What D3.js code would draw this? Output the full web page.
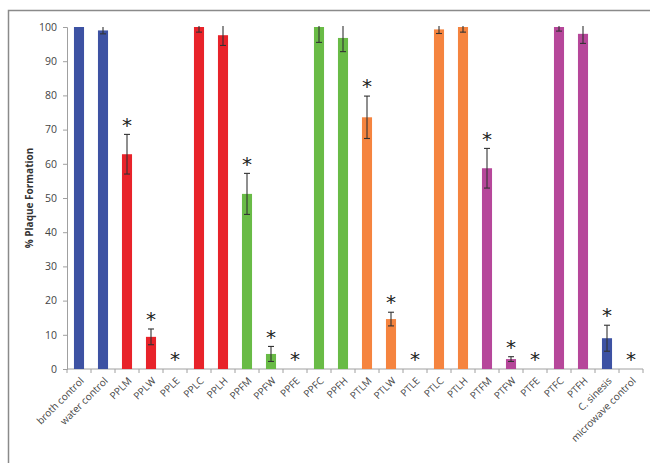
<!DOCTYPE html>
<html>
<head>
<meta charset="utf-8">
<script src="https://cdn.jsdelivr.net/npm/d3@7"></script>
<style>
  html, body { margin: 0; padding: 0; background: #fff; }
  svg { display: block; }
</style>
</head>
<body>
<svg id="chart" width="650" height="463"></svg>
<script>
// Treatments, in plotting order
const categories = ["broth control", "water control", "PPLM", "PPLW", "PPLE", "PPLC", "PPLH",
  "PPFM", "PPFW", "PPFE", "PPFC", "PPFH", "PTLM", "PTLW", "PTLE", "PTLC", "PTLH",
  "PTFM", "PTFW", "PTFE", "PTFC", "PTFH", "C. sinesis", "microwave control"];
// Mean % plaque formation
const values = [100, 99, 62.8, 9.4, 0, 100, 97.6,
  51.2, 4.4, 0, 100, 96.8, 73.6, 14.6, 0, 99.3, 100,
  58.7, 2.9, 0, 100, 98.0, 9.0, 0];
// Standard error for each treatment
const errors = [0, 1, 5.8, 2.3, 0, 1.5, 3,
  6, 2.2, 0, 4.5, 4, 6.2, 2, 0, 1.2, 1.5,
  5.8, 0.7, 0, 1.2, 2.8, 3.8, 0];
// Significance marks (1 = significant)
const significant = [0, 0, 1, 1, 1, 0, 0,
  1, 1, 1, 0, 0, 1, 1, 1, 0, 0,
  1, 1, 1, 0, 0, 1, 1];
// Extract group of each treatment (sets the bar colour)
const groups = ["control", "control", "PPL", "PPL", "PPL", "PPL", "PPL",
  "PPF", "PPF", "PPF", "PPF", "PPF", "PTL", "PTL", "PTL", "PTL", "PTL",
  "PTF", "PTF", "PTF", "PTF", "PTF", "control", "control"];
const groupNames = ["control", "PPL", "PPF", "PTL", "PTF"];
const groupColors = ["#3d52a3", "#e8232a", "#69bb46", "#f5843f", "#b6479a"];
const yTicks = [0, 10, 20, 30, 40, 50, 60, 70, 80, 90, 100];
const yTitle = "% Plaque Formation";

const svg = d3.select("#chart");
const margin = { left: 67, right: 7, top: 27, bottom: 94 };
const W = 650, H = 463;

// outer frame (top and left edges visible)
svg.append("rect")
  .attr("x", 8.5).attr("y", 10.5)
  .attr("width", 700).attr("height", 500)
  .attr("fill", "none").attr("stroke", "#8a8a8a").attr("stroke-width", 1.5);

const x = d3.scaleBand()
  .domain(categories)
  .range([margin.left, W - margin.right])
  .paddingInner(0.58).paddingOuter(0.29);

const y = d3.scaleLinear()
  .domain([0, 100])
  .range([H - margin.bottom, margin.top]);

const color = d3.scaleOrdinal().domain(groupNames).range(groupColors);

const data = categories.map((c, i) => ({
  cat: c, v: values[i], e: errors[i], sig: significant[i], g: groups[i]
}));

// y axis
const yAxis = svg.append("g")
  .attr("transform", `translate(${margin.left},0)`)
  .call(d3.axisLeft(y).tickValues(yTicks).tickSize(4).tickPadding(6));
yAxis.select(".domain").attr("stroke", "#a0a0a0");
yAxis.selectAll(".tick line").attr("stroke", "#a0a0a0");
yAxis.selectAll(".tick text")
  .attr("font-family", "'Open Sans', 'DejaVu Sans', sans-serif")
  .attr("font-size", 10.5).attr("fill", "#444");

// x axis with tick marks between categories
const xAxisG = svg.append("g")
  .attr("transform", `translate(0,${y(0)})`);
xAxisG.append("line")
  .attr("x1", margin.left).attr("x2", W - margin.right)
  .attr("stroke", "#a0a0a0");
const step = x.step();
const bounds = d3.range(categories.length + 1).map(i => margin.left + i * step);
xAxisG.selectAll("line.sep").data(bounds).join("line")
  .attr("class", "sep")
  .attr("x1", d => d).attr("x2", d => d)
  .attr("y1", 0).attr("y2", 4)
  .attr("stroke", "#a0a0a0");
xAxisG.selectAll("text").data(categories).join("text")
  .attr("transform", d => `translate(${x(d) + x.bandwidth() / 2 + 3},${10}) rotate(-45)`)
  .attr("text-anchor", "end")
  .attr("dy", "0.35em")
  .attr("font-family", "'Open Sans', 'DejaVu Sans', sans-serif")
  .attr("font-size", 10).attr("fill", "#444")
  .text(d => d);

// bars
svg.append("g").selectAll("rect").data(data).join("rect")
  .attr("x", d => x(d.cat))
  .attr("width", x.bandwidth())
  .attr("y", d => y(d.v))
  .attr("height", d => y(0) - y(d.v))
  .attr("fill", d => color(d.g));

// error bars
const eb = svg.append("g").selectAll("g").data(data.filter(d => d.e > 0)).join("g")
  .attr("stroke", "#333").attr("stroke-width", 1.1);
eb.append("line")
  .attr("x1", d => x(d.cat) + x.bandwidth() / 2)
  .attr("x2", d => x(d.cat) + x.bandwidth() / 2)
  .attr("y1", d => y(Math.min(d.v + d.e, 100.3)))
  .attr("y2", d => y(d.v - d.e));
eb.filter(d => d.v + d.e < 100).append("line")
  .attr("x1", d => x(d.cat) + x.bandwidth() / 2 - 3)
  .attr("x2", d => x(d.cat) + x.bandwidth() / 2 + 3)
  .attr("y1", d => y(d.v + d.e))
  .attr("y2", d => y(d.v + d.e));
eb.append("line")
  .attr("x1", d => x(d.cat) + x.bandwidth() / 2 - 3)
  .attr("x2", d => x(d.cat) + x.bandwidth() / 2 + 3)
  .attr("y1", d => y(d.v - d.e))
  .attr("y2", d => y(d.v - d.e));

// significance asterisks
svg.append("g").selectAll("text").data(data.filter(d => d.sig)).join("text")
  .attr("x", d => x(d.cat) + x.bandwidth() / 2)
  .attr("y", d => y(d.v + d.e) - 3)
  .attr("text-anchor", "middle")
  .attr("dy", "0.71em")
  .attr("transform", d => `translate(0,${-14})`)
  .attr("font-family", "'DejaVu Sans', sans-serif")
  .attr("font-size", 20).attr("fill", "#222")
  .text("*");

// y axis title
svg.append("text")
  .attr("transform", `translate(33,${(y(0) + y(100)) / 2}) rotate(-90)`)
  .attr("text-anchor", "middle")
  .attr("font-family", "'Open Sans', 'DejaVu Sans', sans-serif")
  .attr("font-size", 10).attr("font-weight", "bold").attr("fill", "#333")
  .text(yTitle);
</script>
</body>
</html>
